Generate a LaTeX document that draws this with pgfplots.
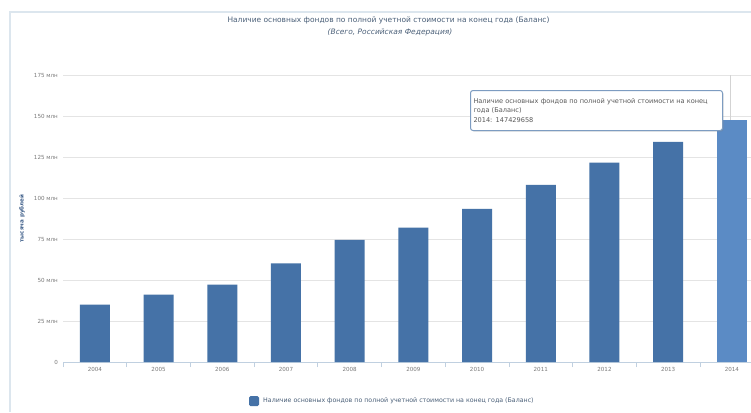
\documentclass[border=0pt]{standalone}
\usepackage{fontspec}
\setmainfont{DejaVu Sans}
\usepackage{pgfplots}
\pgfplotsset{compat=1.18}
\usetikzlibrary{shadows}
\definecolor{barblue}{HTML}{4572A7}
\definecolor{barhover}{HTML}{5B8BC5}
\definecolor{titlecol}{HTML}{4A5F78}
\definecolor{axisblue}{HTML}{C0D0E0}
\definecolor{gridcol}{HTML}{E4E4E4}
\definecolor{labcol}{HTML}{7A7A7A}
\definecolor{framecol}{HTML}{DCE6EE}
\definecolor{ylabcol}{HTML}{3F5F8A}
\begin{document}
\begin{tikzpicture}[x=1bp,y=1bp]
\path[use as bounding box] (0,0) rectangle (751,-412);
\fill[white] (0,0) rectangle (751,-412);
\draw[framecol, line width=1.2bp] (10,-412) -- (10,-12) -- (751,-12);
\node[font=\fontsize{7.5}{9}\selectfont, text=titlecol] at (388.5,-20.7) {Наличие основных фондов по полной учетной стоимости на конец года (Баланс)};
\node[font=\fontsize{7.5}{9}\selectfont\itshape, text=titlecol] at (390,-32) {(Всего, Российская Федерация)};
\begin{axis}[
  at={(63bp,-362bp)}, anchor=south west,
  scale only axis, width=688bp, height=287bp,
  xmin=-0.5, xmax=10.3, ymin=0, ymax=175,
  axis x line*=bottom, axis y line*=left,
  x axis line style={draw=axisblue, line width=1bp},
  y axis line style={draw=none},
  xtick={0,...,10},
  xticklabels={2004,2005,2006,2007,2008,2009,2010,2011,2012,2013,2014},
  minor xtick={-0.5,0.5,...,9.5},
  tick align=outside,
  major tick length=0pt,
  minor tick length=5bp,
  minor x tick style={draw=axisblue, line width=0.8bp},
  ytick={0,25,...,175},
  yticklabels={0,25 млн,50 млн,75 млн,100 млн,125 млн,150 млн,175 млн},
  ymajorgrids,
  major grid style={draw=gridcol, line width=1bp},
  xticklabel style={font=\fontsize{5.6}{6}\selectfont, text=labcol, inner sep=0pt, yshift=-5.5bp},
  yticklabel style={font=\fontsize{5.6}{6}\selectfont, text=labcol, inner sep=0pt, xshift=-5bp},
  ylabel={тысяча рублей},
  ylabel style={at={(axis description cs:-0.0596,0.5)}, anchor=center, font=\fontsize{5.6}{6}\selectfont\bfseries, text=ylabcol},
  clip=false,
]
\draw[draw=gridcol!80!black!60, line width=0.8bp] (axis cs:9.97,0) -- (axis cs:9.97,175);
\addplot[ybar, bar width=30bp, bar shift=0pt, fill=barblue, draw=none]
coordinates {(0,35.0) (1,41.1) (2,47.2) (3,60.1) (4,74.4) (5,82.0) (6,93.3) (7,108.0) (8,121.5) (9,134.2)};
\addplot[ybar, bar width=30bp, bar shift=0pt, fill=barhover, draw=none]
coordinates {(10,147.429658)};
\end{axis}
\node[draw=barblue!70, line width=1bp, rounded corners=2.5bp, fill=white, drop shadow={opacity=0.25, shadow xshift=1bp, shadow yshift=-1bp},
  minimum width=252bp, minimum height=40bp, anchor=north west, align=left, text width=246bp, inner xsep=3bp, inner ysep=3bp,
  font=\fontsize{6.6}{9.5}\selectfont, text=black!65] at (470,-90)
  {Наличие основных фондов по полной учетной стоимости на конец\\года (Баланс)\\2014: 147429658};
\fill[barblue, rounded corners=1.5bp] (249,-396) rectangle (259,-406);
\node[anchor=west, inner sep=0pt, font=\fontsize{6.3}{7}\selectfont, text=titlecol] at (263,-401) {Наличие основных фондов по полной учетной стоимости на конец года (Баланс)};
\end{tikzpicture}
\end{document}
